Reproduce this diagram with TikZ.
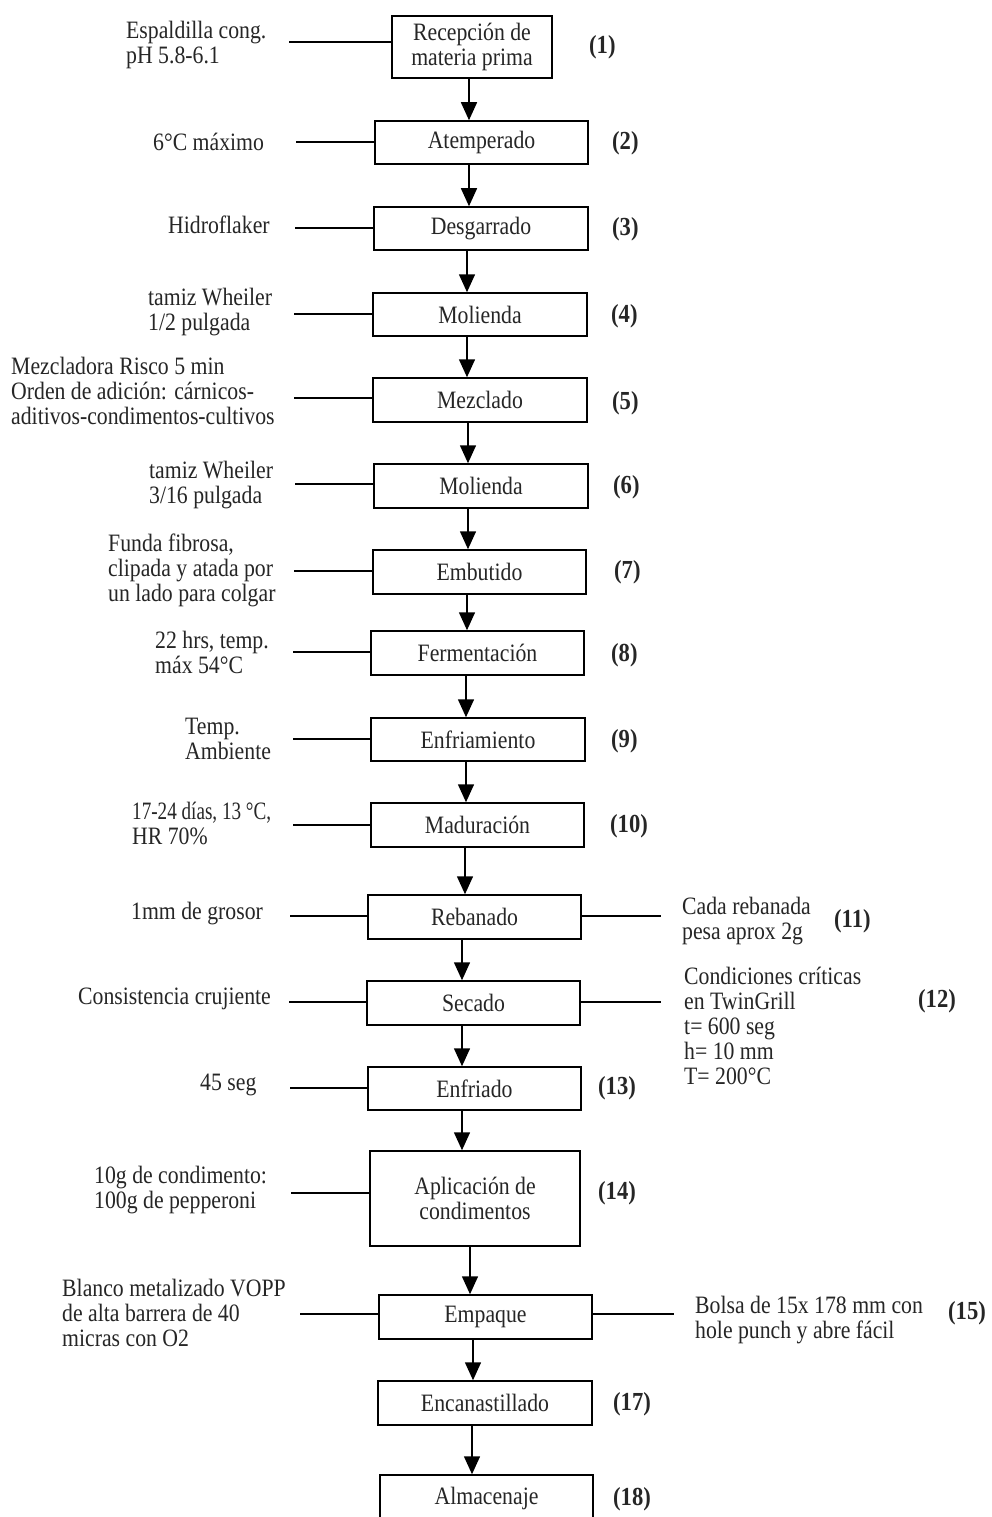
\documentclass[tikz,border=0pt]{standalone}
\usepackage{fontspec}
\setmainfont{Liberation Serif}[FakeStretch=0.87]
\usetikzlibrary{arrows.meta}
\begin{document}
\begin{tikzpicture}[x=1pt,y=-1pt,
  every node/.style={font=\fontsize{25}{25}\selectfont, text=black!85},
  box/.style={draw=black, line width=1.5pt, align=center, inner sep=0pt},
  lab/.style={anchor=west, align=left, inner sep=0pt},
  num/.style={anchor=west, inner sep=0pt, font=\fontsize{26}{26}\selectfont\bfseries},
  conn/.style={line width=1.5pt},
  arr/.style={line width=1.5pt, -{Triangle[width=16pt,length=18pt]}}]
\fill[white] (0,0) rectangle (992,1517);
\useasboundingbox (0,0) rectangle (992,1517);
\begin{scope}
\clip (0,0) rectangle (992,1517);
% main boxes
\node[box, minimum width=160pt, minimum height=62pt] (b1) at (472,47) {Recepción de\\materia prima};
\node[box, minimum width=213pt, minimum height=43pt] (b2) at (481.5,142.5) {Atemperado};
\node[box, minimum width=214pt, minimum height=43pt] (b3) at (481,228.5) {Desgarrado};
\node[box, minimum width=214pt, minimum height=43pt] (b4) at (480,314.5) {Molienda};
\node[box, minimum width=214pt, minimum height=44pt] (b5) at (480,400) {Mezclado};
\node[box, minimum width=214pt, minimum height=44pt] (b6) at (481,486) {Molienda};
\node[box, minimum width=213pt, minimum height=44pt] (b7) at (479.5,572) {Embutido};
\node[box, minimum width=213pt, minimum height=44pt] (b8) at (477.5,653) {Fermentación};
\node[box, minimum width=214pt, minimum height=43pt] (b9) at (478,739.5) {Enfriamiento};
\node[box, minimum width=213pt, minimum height=44pt] (b10) at (477.5,825) {Maduración};
\node[box, minimum width=213pt, minimum height=44pt] (b11) at (474.5,917) {Rebanado};
\node[box, minimum width=213pt, minimum height=44pt] (b12) at (473.5,1003) {Secado};
\node[box, minimum width=213pt, minimum height=43pt] (b13) at (474.5,1088.5) {Enfriado};
\node[box, minimum width=210pt, minimum height=95pt] (b14) at (475,1198.5) {Aplicación de\\condimentos};
\node[box, minimum width=213pt, minimum height=44pt] (b15) at (485.5,1317) {Empaque};
\node[box, minimum width=214pt, minimum height=44pt] (b17) at (485,1403) {Encanastillado};
\node[box, minimum width=213pt, minimum height=46pt] (b18) at (486.5,1498) {Almacenaje};
% arrows
\foreach \a/\b/\xx in {b1/b2/469, b2/b3/469, b3/b4/467, b4/b5/467, b5/b6/468, b6/b7/468, b7/b8/467, b8/b9/466, b9/b10/466, b10/b11/465, b11/b12/462, b12/b13/462, b13/b14/462, b14/b15/470, b15/b17/473, b17/b18/472}{
  \coordinate (tmp) at (\xx,0);
  \draw[arr] (\a.south -| tmp) -- (\b.north -| tmp);
}
% left labels
\node[lab] (l1) at (126,45) {Espaldilla cong.\\pH 5.8-6.1};
\node[lab] (l2) at (153,142) {6°C máximo};
\node[lab] (l3) at (168,225) {Hidroflaker};
\node[lab] (l4) at (148,312) {tamiz Wheiler\\1/2 pulgada};
\node[lab] (l5) at (11,391) {Mezcladora Risco 5 min\\Orden de adición: cárnicos-\\aditivos-condimentos-cultivos};
\node[lab] (l6) at (149,485) {tamiz Wheiler\\3/16 pulgada};
\node[lab] (l7) at (108,570) {Funda fibrosa,\\clipada y atada por\\un lado para colgar};
\node[lab] (l8) at (155,652) {22 hrs, temp.\\máx 54°C};
\node[lab] (l9) at (185,739) {Temp.\\Ambiente};
\node[lab] (l10) at (132,823) {\scalebox{0.88}[1]{17-24 días, 13 °C,}\\HR 70\%};
\node[lab] (l11) at (131,914) {1mm de grosor};
\node[lab] (l12) at (78,999) {Consistencia crujiente};
\node[lab] (l13) at (200,1085) {45 seg};
\node[lab] (l14) at (94,1190) {10g de condimento:\\100g de pepperoni};
\node[lab] (l15) at (62,1313) {Blanco metalizado VOPP\\de alta barrera de 40\\micras con O2};
% right labels
\node[lab] (r11) at (682,921) {Cada rebanada\\pesa aprox 2g};
\node[lab] (r12) at (684,1026) {Condiciones críticas\\en TwinGrill\\t= 600 seg\\h= 10 mm\\T= 200°C};
\node[lab] (r15) at (695,1320) {Bolsa de 15x 178 mm con\\hole punch y abre fácil};
% left connector lines
\foreach \b/\sx/\sy in {b1/289/42, b2/296/142, b3/295/228, b4/294/314, b5/294/398, b6/295/484, b7/294/571, b8/293/652, b9/293/739, b10/293/825, b11/290/916, b12/289/1002, b13/290/1088, b14/291/1193, b15/300/1314}{
  \coordinate (s\b) at (\sx,\sy);
  \draw[conn] (s\b) -- (s\b -| \b.west);
}
% right connector lines
\foreach \b/\ex/\ey in {b11/661/916, b12/661/1002, b15/674/1314}{
  \coordinate (e\b) at (\ex,\ey);
  \draw[conn] (e\b -| \b.east) -- (e\b);
}
% numbers
\node[num] (n1) at (589,47) {(1)};
\node[num] (n2) at (612,143) {(2)};
\node[num] (n3) at (612,229) {(3)};
\node[num] (n4) at (611,316) {(4)};
\node[num] (n5) at (612,403) {(5)};
\node[num] (n6) at (613,487) {(6)};
\node[num] (n7) at (614,572) {(7)};
\node[num] (n8) at (611,655) {(8)};
\node[num] (n9) at (611,741) {(9)};
\node[num] (n10) at (610,826) {(10)};
\node[num] (n11) at (834,921) {(11)};
\node[num] (n12) at (918,1001) {(12)};
\node[num] (n13) at (598,1088) {(13)};
\node[num] (n14) at (598,1193) {(14)};
\node[num] (n15) at (948,1313) {(15)};
\node[num] (n17) at (613,1404) {(17)};
\node[num] (n18) at (613,1499) {(18)};
\end{scope}
\end{tikzpicture}
\end{document}
